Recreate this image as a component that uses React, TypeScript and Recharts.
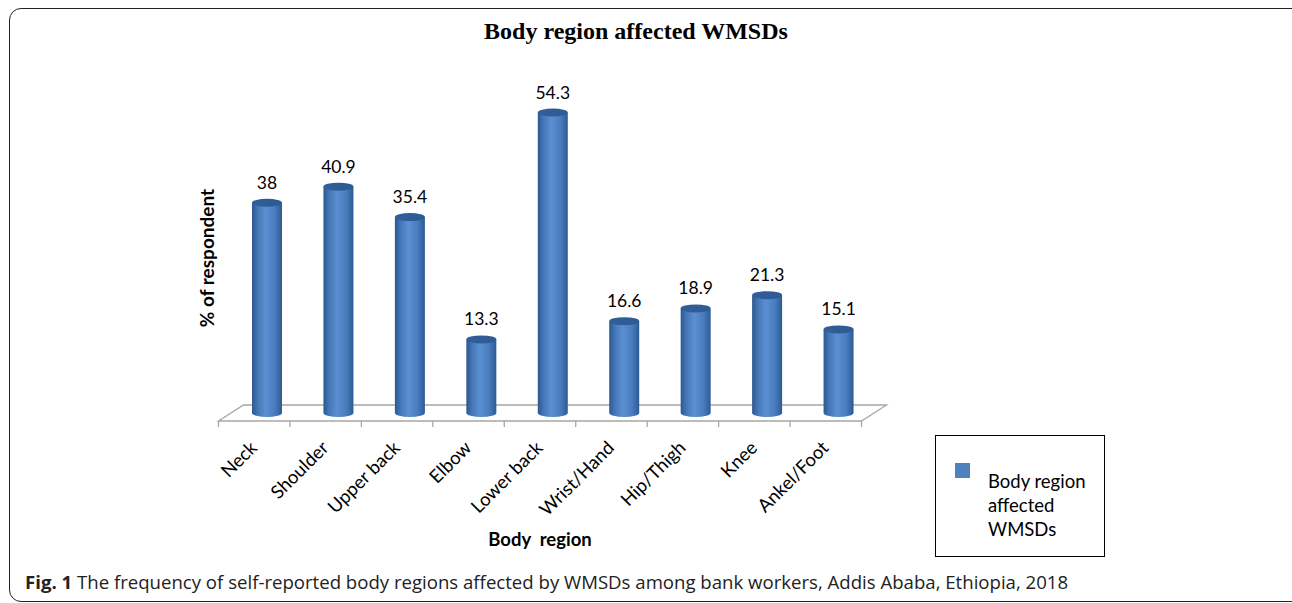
import React from 'react';
import { BarChart, Bar, XAxis, YAxis, LabelList, usePlotArea } from 'recharts';

const regions = ['Neck', 'Shoulder', 'Upper back', 'Elbow', 'Lower back', 'Wrist/Hand', 'Hip/Thigh', 'Knee', 'Ankel/Foot'];
const percentages = [38, 40.9, 35.4, 13.3, 54.3, 16.6, 18.9, 21.3, 15.1];
const yDomain = [0, 60];

const seriesName = 'Body region affected WMSDs';
const chartTitle = 'Body region affected WMSDs';
const xTitle = 'Body  region';
const yTitle = '% of respondent';
const legendLines = ['Body region', 'affected', 'WMSDs'];

const data = regions.map((region, i) => ({ region, value: percentages[i] }));

const W = 1292;
const H = 603;
const FONT = 'Lato, "Open Sans", sans-serif';
// 3D floor depth: bars sit mid-way between the front and back edges
const DEPTH_X = 25;
const DEPTH_Y = 16;

function Cylinder(props: any) {
  const { x, y, width, height } = props;
  if (width == null || height == null || height <= 0) return null;
  const rx = width / 2;
  const ry = 4;
  const cx = x + rx;
  const bottom = y + height;
  const body = `M${x},${y} L${x},${bottom} A${rx},${ry} 0 0 0 ${x + width},${bottom} L${x + width},${y} Z`;
  return (
    <g>
      <path d={body} fill="url(#cylBody)" />
      <ellipse cx={cx} cy={y} rx={rx} ry={ry} fill="url(#cylTop)" />
    </g>
  );
}

function Floor() {
  const area = usePlotArea();
  if (!area) return null;
  const n = regions.length;
  const band = area.width / n;
  const base = area.y + area.height;
  const fx0 = area.x - DEPTH_X / 2;
  const fy = base + DEPTH_Y / 2;
  const bx0 = area.x + DEPTH_X / 2;
  const by = base - DEPTH_Y / 2;
  const fx1 = fx0 + area.width;
  const bx1 = bx0 + area.width;
  const ticks = [];
  for (let i = 0; i <= n; i++) {
    const tx = fx0 + i * band;
    ticks.push(<line key={i} x1={tx} y1={fy} x2={tx} y2={fy + 6} stroke="#a6a6a6" strokeWidth={1.3} />);
  }
  return (
    <g>
      <polygon points={`${fx0},${fy} ${bx0},${by} ${bx1},${by} ${fx1},${fy}`} fill="#ffffff" stroke="#a6a6a6" strokeWidth={1.3} />
      {ticks}
    </g>
  );
}

function RegionTick(props: any) {
  const { x, y, payload } = props;
  return (
    <text
      x={0}
      y={0}
      transform={`translate(${x - DEPTH_X / 2 + 4},${y + 28}) rotate(-45)`}
      textAnchor="end"
      fontFamily={FONT}
      fontSize={18.5}
      fill="#000"
    >
      {payload.value}
    </text>
  );
}

function LegendBox() {
  return (
    <div
      style={{
        position: 'absolute',
        left: 935,
        top: 435,
        width: 170,
        height: 122,
        border: '1.5px solid #000',
        boxSizing: 'border-box',
        fontFamily: FONT,
        fontSize: 18.5,
        lineHeight: '24px',
        color: '#000',
      }}
    >
      <div style={{ position: 'absolute', left: 19, top: 27, width: 15, height: 15, background: '#4f81bd' }} />
      <div style={{ position: 'absolute', left: 52, top: 33, width: 115 }}>
        {legendLines.map((l) => (
          <div key={l}>{l}</div>
        ))}
      </div>
    </div>
  );
}

export default function App() {
  return (
    <div style={{ position: 'absolute', left: 0, top: 0, width: W, height: H, background: '#fff', overflow: 'hidden' }}>
      <div
        style={{
          position: 'absolute',
          left: 9,
          top: 8,
          width: 1295,
          height: 594,
          border: '1.6px solid #222',
          borderRadius: 12,
          boxSizing: 'border-box',
        }}
      />
      <div
        style={{
          position: 'absolute',
          left: 0,
          width: 1272,
          top: 18,
          textAlign: 'center',
          fontFamily: '"Liberation Serif", "Times New Roman", serif',
          fontWeight: 'bold',
          fontSize: 24,
        }}
      >
        {chartTitle}
      </div>
      <div
        style={{
          position: 'absolute',
          left: 206,
          top: 258,
          transform: 'translate(-50%, -50%) rotate(-90deg)',
          whiteSpace: 'nowrap',
          fontFamily: FONT,
          fontWeight: 'bold',
          fontSize: 19,
        }}
      >
        {yTitle}
      </div>
      <div
        style={{
          position: 'absolute',
          left: 540,
          top: 539,
          transform: 'translate(-50%, -50%)',
          whiteSpace: 'pre',
          fontFamily: FONT,
          fontWeight: 'bold',
          fontSize: 18.5,
        }}
      >
        {xTitle}
      </div>
      <div style={{ position: 'absolute', left: 0, top: 0 }}>
        <BarChart width={W} height={H} data={data} margin={{ top: 81, right: 418, bottom: 0, left: 231 }} barSize={30}>
          <defs>
            <linearGradient id="cylBody" x1="0" y1="0" x2="1" y2="0">
              <stop offset="0%" stopColor="#2b5891" />
              <stop offset="20%" stopColor="#4678b8" />
              <stop offset="45%" stopColor="#5a8fd2" />
              <stop offset="75%" stopColor="#4a7dbf" />
              <stop offset="100%" stopColor="#2c5a94" />
            </linearGradient>
            <linearGradient id="cylTop" x1="0" y1="0" x2="1" y2="0">
              <stop offset="0%" stopColor="#315f9b" />
              <stop offset="100%" stopColor="#2e5a92" />
            </linearGradient>
          </defs>
          <Floor />
          <XAxis dataKey="region" axisLine={false} tickLine={false} tick={<RegionTick />} interval={0} height={190} />
          <YAxis domain={yDomain} hide />
          <Bar dataKey="value" name={seriesName} fill="#4f81bd" shape={<Cylinder />} isAnimationActive={false}>
            <LabelList dataKey="value" position="top" offset={14} fontFamily={FONT} fontSize={17.5} fill="#000" />
          </Bar>
        </BarChart>
      </div>
      <LegendBox />
      <div
        style={{
          position: 'absolute',
          left: 25,
          top: 569,
          whiteSpace: 'nowrap',
          fontFamily: '"Open Sans", sans-serif',
          fontSize: 18.6,
          color: '#222',
        }}
      >
        <b>Fig. 1</b> The frequency of self-reported body regions affected by WMSDs among bank workers, Addis Ababa, Ethiopia, 2018
      </div>
    </div>
  );
}
